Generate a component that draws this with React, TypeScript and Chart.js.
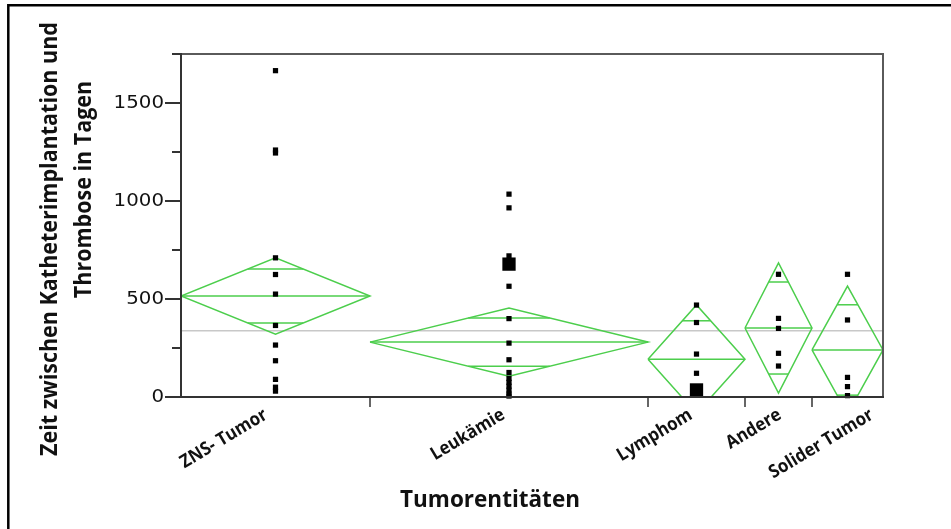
import React, { useEffect, useRef } from "react";
import { Chart, registerables } from "chart.js";
Chart.register(...registerables);

// ---- data ----
const categories = ["ZNS- Tumor", "Leukämie", "Lymphom", "Andere", "Solider Tumor"];
// relative group widths (JMP draws each group proportional to its size)
const groupWeights = [189, 278, 97, 67, 71];
const znsValues = [1665, 1260, 1245, 710, 625, 525, 365, 265, 185, 90, 50, 30];
const leukValues = [1035, 965, 720, 565, 400, 275, 190, 125, 95, 75, 55, 35, 15, 5];
const lymphValues = [469, 380, 219, 121];
const andereValues = [626, 401, 350, 223, 158];
const soliderValues = [626, 393, 100, 53, 7];
// overlapping observations drawn with a large marker
const leukMulti = [678];
const lymphMulti = [36];
const groupMeans = [515, 280, 193, 352, 240];
const groupCI = [195, 174, 277, 332, 326];
const grandMean = 338;
const yMajorTicks = [0, 500, 1000, 1500];
const yMinorTicks = [250, 750, 1250, 1750];
const yMax = 1750;

const groupValues = [znsValues, leukValues, lymphValues, andereValues, soliderValues];
const groupMulti = [[], leukMulti, lymphMulti, [], []];

const GREEN = "rgb(76, 206, 76)";

function fitFont(ctx: CanvasRenderingContext2D, text: string, target: number, family: string, weight: string) {
  ctx.font = `${weight} 20px ${family}`;
  const w = ctx.measureText(text).width;
  return 20 * target / w;
}

const App = () => {
  const ref = useRef<HTMLCanvasElement>(null);
  useEffect(() => {
    const canvas = ref.current!;
    const total = groupWeights.reduce((a, b) => a + b, 0);
    const bounds: number[] = [0];
    groupWeights.forEach((w) => bounds.push(bounds[bounds.length - 1] + w));
    const centers = groupWeights.map((w, i) => bounds[i] + w / 2);

    const datasets: any[] = [];
    const pts: any[] = [];
    const radii: number[] = [];
    groupValues.forEach((vals, i) => vals.forEach((v) => { pts.push({ x: centers[i], y: v }); radii.push(3.7); }));
    groupMulti.forEach((vals, i) => vals.forEach((v) => { pts.push({ x: centers[i], y: v }); radii.push(9.4); }));
    datasets.push({
      type: "scatter", data: pts, pointStyle: "rect", pointRadius: radii, pointHoverRadius: radii,
      backgroundColor: "#000", borderColor: "#000", borderWidth: 0, clip: false,
    });
    groupMeans.forEach((m, i) => {
      const l = bounds[i], r = bounds[i + 1], c = centers[i], ci = groupCI[i];
      const common = { type: "line", borderColor: GREEN, borderWidth: 1.5, pointRadius: 0, fill: false, tension: 0 };
      datasets.push({ ...common, data: [{ x: l, y: m }, { x: c, y: m + ci }, { x: r, y: m }, { x: c, y: m - ci }, { x: l, y: m }] });
      datasets.push({ ...common, data: [{ x: l, y: m }, { x: r, y: m }] });
      const off = ci * Math.SQRT1_2;
      const hw = ((r - l) / 2) * (1 - Math.SQRT1_2);
      datasets.push({ ...common, data: [{ x: c - hw, y: m + off }, { x: c + hw, y: m + off }] });
      datasets.push({ ...common, data: [{ x: c - hw, y: m - off }, { x: c + hw, y: m - off }] });
    });
    datasets.push({
      type: "line", data: [{ x: 0, y: grandMean }, { x: total, y: grandMean }],
      borderColor: "#c8c8c8", borderWidth: 1.5, pointRadius: 0, fill: false,
    });

    const labelShift = [-7, -3, -3, 4, 27];
    const BOLD_SQUEEZE = 0.92;

    const decor = {
      id: "decor",
      afterDraw(chart: any) {
        const ctx: CanvasRenderingContext2D = chart.ctx;
        const { left, right, top, bottom } = chart.chartArea;
        const ys = chart.scales.y;
        const xs = chart.scales.x;
        ctx.save();
        // outer border
        ctx.strokeStyle = "#000";
        ctx.lineWidth = 2.5;
        ctx.beginPath();
        ctx.moveTo(8.3, 529);
        ctx.lineTo(8.3, 5.3);
        ctx.lineTo(951, 5.3);
        ctx.stroke();
        // frame top/right
        ctx.strokeStyle = "#5a5a5a";
        ctx.lineWidth = 2;
        ctx.beginPath();
        ctx.moveTo(left, top);
        ctx.lineTo(right, top);
        ctx.lineTo(right, bottom);
        ctx.stroke();
        // axes
        ctx.strokeStyle = "#333";
        ctx.beginPath();
        ctx.moveTo(left, top - 1);
        ctx.lineTo(left, bottom);
        ctx.lineTo(right + 1, bottom);
        ctx.stroke();
        // y ticks
        ctx.lineWidth = 2;
        yMajorTicks.forEach((v) => {
          const y = ys.getPixelForValue(v);
          ctx.beginPath(); ctx.moveTo(left - 16, y); ctx.lineTo(left, y); ctx.stroke();
        });
        yMinorTicks.forEach((v) => {
          const y = ys.getPixelForValue(v);
          ctx.beginPath(); ctx.moveTo(left - 9, y); ctx.lineTo(left, y); ctx.stroke();
        });
        ctx.fillStyle = "#111";
        ctx.font = '18px "DejaVu Sans"';
        ctx.textAlign = "right";
        ctx.textBaseline = "middle";
        yMajorTicks.forEach((v) => {
          const y = ys.getPixelForValue(v);
          ctx.save();
          ctx.translate(left - 17, y);
          ctx.scale(1.1, 1);
          ctx.fillText(String(v), 0, 0);
          ctx.restore();
        });
        // x ticks at group boundaries
        ctx.strokeStyle = "#333";
        ctx.lineWidth = 1.5;
        for (let i = 1; i < bounds.length - 1; i++) {
          const x = xs.getPixelForValue(bounds[i]);
          ctx.beginPath(); ctx.moveTo(x, bottom); ctx.lineTo(x, bottom + 10); ctx.stroke();
        }
        // x category labels
        const xSize = fitFont(ctx, categories[0], 98 / BOLD_SQUEEZE, '"Open Sans"', "bold");
        ctx.font = `bold ${xSize}px "Open Sans"`;
        ctx.fillStyle = "#111";
        ctx.textAlign = "right";
        ctx.textBaseline = "alphabetic";
        categories.forEach((c, i) => {
          const x = xs.getPixelForValue(centers[i]) + labelShift[i];
          ctx.save();
          ctx.translate(x, bottom + 21);
          ctx.rotate((-31 * Math.PI) / 180);
          ctx.scale(BOLD_SQUEEZE, 1);
          ctx.fillText(c, 0, 0);
          ctx.restore();
        });
        // x title
        const tSize = fitFont(ctx, "Tumorentitäten", 180 / 0.95, '"Open Sans"', "bold");
        ctx.font = `bold ${tSize}px "Open Sans"`;
        ctx.textAlign = "center";
        ctx.save();
        ctx.translate(490, 507);
        ctx.scale(0.95, 1);
        ctx.fillText("Tumorentitäten", 0, 0);
        ctx.restore();
        // y title
        const l1 = "Zeit zwischen Katheterimplantation und";
        const l2 = "Thrombose in Tagen";
        const ySize = fitFont(ctx, l1, 434 / BOLD_SQUEEZE, '"Open Sans"', "bold");
        ctx.font = `bold ${ySize}px "Open Sans"`;
        ctx.textBaseline = "middle";
        ctx.save();
        ctx.translate(50, 239);
        ctx.rotate(-Math.PI / 2);
        ctx.scale(BOLD_SQUEEZE, 1);
        ctx.fillText(l1, 0, 0);
        ctx.restore();
        ctx.save();
        ctx.translate(84, 189.5);
        ctx.rotate(-Math.PI / 2);
        ctx.scale(BOLD_SQUEEZE, 1);
        ctx.fillText(l2, 0, 0);
        ctx.restore();
        ctx.restore();
      },
    };

    const chart = new Chart(canvas, {
      type: "scatter",
      data: { datasets },
      options: {
        animation: false,
        responsive: false,
        maintainAspectRatio: false,
        events: [],
        layout: { padding: { left: 181, top: 54, right: 68, bottom: 132 } },
        plugins: { legend: { display: false }, tooltip: { enabled: false } },
        scales: {
          x: { type: "linear", min: 0, max: total, display: false },
          y: { type: "linear", min: 0, max: yMax, display: false },
        },
      },
      plugins: [decor],
    } as any);
    return () => chart.destroy();
  }, []);

  return (
    <div style={{ position: "fixed", left: 0, top: 0, width: 951, height: 529, background: "#fff" }}>
      <canvas ref={ref} width={951} height={529} style={{ width: 951, height: 529, display: "block" }} />
    </div>
  );
};

export default App;
